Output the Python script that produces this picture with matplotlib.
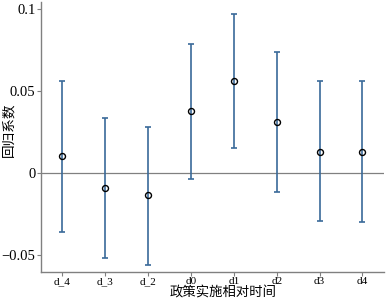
import numpy as np
import matplotlib.pyplot as plt

plt.rcParams['font.family'] = ['Liberation Serif', 'Noto Sans CJK SC']

labels = ['d_4', 'd_3', 'd_2', 'd0', 'd1', 'd2', 'd3', 'd4']
coef = [0.0104, -0.0091, -0.0134, 0.0378, 0.0560, 0.0310, 0.0128, 0.0128]
upper = [0.0560, 0.0335, 0.0280, 0.0787, 0.0970, 0.0738, 0.0560, 0.0560]
lower = [-0.0360, -0.0520, -0.0560, -0.0037, 0.0152, -0.0116, -0.0293, -0.0300]

x = np.arange(1, len(labels) + 1)
coef = np.array(coef)
yerr = [coef - np.array(lower), np.array(upper) - coef]

fig = plt.figure(figsize=(3.87, 2.99), dpi=100)
ax = fig.add_axes([0.106, 0.09, 0.886, 0.903])

ax.axhline(0, color='#808080', lw=0.9, zorder=1)
ax.errorbar(x, coef, yerr=yerr, fmt='none', ecolor='#3a6a99', elinewidth=1.2,
            capsize=2.5, capthick=1.2, zorder=2)
ax.plot(x, coef, 'o', mfc='none', mec='black', ms=4.3, mew=1.0, zorder=3)

ax.set_xlim(0.5, 8.5)
ax.set_ylim(-0.0604, 0.104)
ax.set_xticks(x)
ax.set_xticklabels(labels, fontsize=8)
ax.set_yticks([-0.05, 0, 0.05, 0.1])
ax.set_yticklabels(['\u22120.05', '0', '0.05', '0.1'], fontsize=10.5)
ax.tick_params(length=3, width=0.8, color='#808080', pad=1)
ax.tick_params(axis='x', pad=0.5)

for s in ['top', 'right']:
    ax.spines[s].set_visible(False)
for s in ['left', 'bottom']:
    ax.spines[s].set_color('#808080')
    ax.spines[s].set_linewidth(1.0)

ax.set_xlabel('政策实施相对时间', fontsize=9.6)
ax.xaxis.set_label_coords(0.53, -0.052)
ax.set_ylabel('回归系数', fontsize=9.8)
ax.yaxis.set_label_coords(-0.075, 0.526)

plt.savefig('out.png', dpi=100)
plt.close()
